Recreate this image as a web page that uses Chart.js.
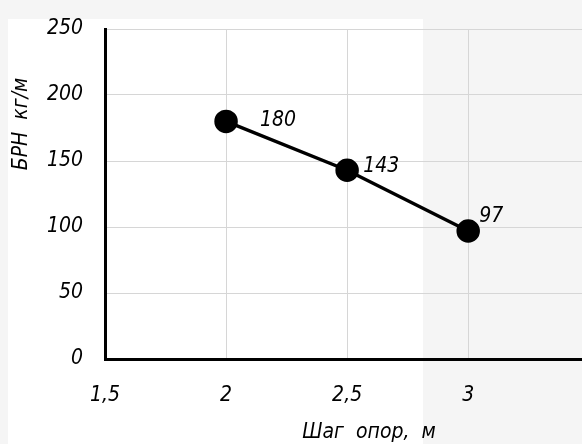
<!DOCTYPE html>
<html><head><meta charset="utf-8">
<script src="https://cdn.jsdelivr.net/npm/chart.js@4/dist/chart.umd.min.js"></script>
<style>html,body{margin:0;padding:0;background:#f5f5f5;}canvas{display:block;}</style>
</head><body>
<canvas id="c" width="582" height="444"></canvas>
<script>
const spans = [2, 2.5, 3];
const brn = [180, 143, 97];
const xTicks = [1.5, 2, 2.5, 3];
const yTicks = [0, 50, 100, 150, 200, 250];
const xTitle = 'Шаг опор, м';
const yTitle = 'БРН кг/м';
const labelOffsets = [[34, -1], [16, -4], [11, -14]];

const FAMILY = '"DejaVu Sans Condensed", "DejaVu Sans", sans-serif';
const FONT = 'italic 21px ' + FAMILY;

const bgPlugin = {
  id: 'bg',
  beforeDraw(chart) {
    const ctx = chart.ctx;
    ctx.save();
    ctx.fillStyle = '#f5f5f5';
    ctx.fillRect(0, 0, chart.width, chart.height);
    ctx.fillStyle = '#ffffff';
    ctx.fillRect(8, 19, 415, chart.height - 19);
    ctx.restore();
  }
};
const textPlugin = {
  id: 'texts',
  afterDraw(chart) {
    const ctx = chart.ctx;
    const meta = chart.getDatasetMeta(0);
    ctx.save();
    ctx.font = FONT;
    ctx.fillStyle = '#000';
    ctx.textBaseline = 'middle';
    ctx.textAlign = 'left';
    meta.data.forEach((pt, i) => {
      const o = labelOffsets[i];
      ctx.fillText(String(brn[i]), pt.x + o[0], pt.y + o[1]);
    });
    ctx.textAlign = 'center';
    ctx.fillText(xTitle.replace(/ /g, '  '), 369, 433);
    ctx.translate(22, 124);
    ctx.rotate(-Math.PI / 2);
    ctx.fillText(yTitle.replace(/ /g, '  '), 0, 0);
    ctx.restore();
  }
};

new Chart(document.getElementById('c'), {
  type: 'line',
  data: {
    datasets: [{
      data: spans.map((x, i) => ({x: x, y: brn[i]})),
      borderColor: '#000',
      backgroundColor: '#000',
      borderWidth: 3.5,
      pointRadius: 10,
      pointHoverRadius: 10,
      pointBackgroundColor: '#000',
      pointBorderColor: '#000',
      tension: 0
    }]
  },
  options: {
    responsive: false,
    animation: false,
    layout: {autoPadding: false, padding: {top: 29, right: 0, left: 0, bottom: 0}},
    plugins: {legend: {display: false}, tooltip: {enabled: false}},
    scales: {
      x: {
        type: 'linear',
        min: 1.5,
        max: 3.47,
        afterBuildTicks: s => { s.ticks = xTicks.map(v => ({value: v})); },
        afterFit: s => { s.height = 85; s.paddingLeft = 0; s.paddingRight = 0; },
        grid: {color: '#d6d6d6', lineWidth: 1, drawTicks: false},
        border: {color: '#000', width: 3},
        ticks: {
          padding: 24,
          color: '#000',
          font: {family: FAMILY, size: 21, style: 'italic'},
          callback: v => String(v).replace('.', ','),
          maxRotation: 0
        }
      },
      y: {
        min: 0,
        max: 250,
        afterBuildTicks: s => { s.ticks = yTicks.map(v => ({value: v})); },
        afterFit: s => { s.width = 105; s.paddingTop = 0; s.paddingBottom = 0; },
        grid: {color: '#d6d6d6', lineWidth: 1, drawTicks: false},
        border: {color: '#000', width: 3},
        ticks: {
          padding: 22,
          color: '#000',
          font: {family: FAMILY, size: 21, style: 'italic'}
        }
      }
    }
  },
  plugins: [bgPlugin, textPlugin]
});
</script>
</body></html>
